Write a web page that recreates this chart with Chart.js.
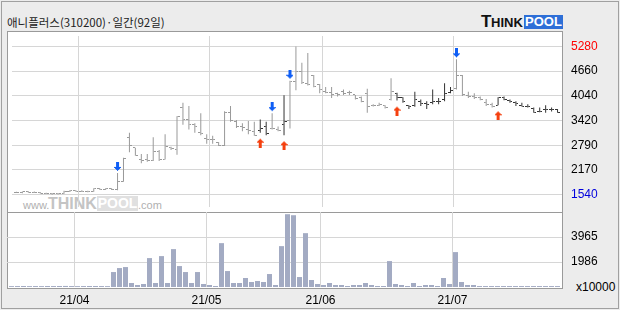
<!DOCTYPE html>
<html>
<head>
<meta charset="utf-8">
<script src="https://cdn.jsdelivr.net/npm/chart.js@4.4.1/dist/chart.umd.min.js"></script>
<style>
  body { margin: 0; width: 620px; height: 310px; background: #ececec; position: relative; overflow: hidden; }
  #frame { position: absolute; left: 1px; top: 1px; width: 616px; height: 306px; border: 1px solid #a0a0a0; }
  #title { position: absolute; left: 7px; top: 16px; font: 11.5px/12px 'Noto Sans CJK KR', sans-serif; color: #222; white-space: nowrap; }
  #panel { position: absolute; left: 7px; top: 31px; width: 554px; height: 256px; border: 1px solid #9a9a9a; background: #fff; }
  #sep { position: absolute; left: 7px; top: 212px; width: 556px; height: 1px; background: #9a9a9a; }
  .lg { position: absolute; font-family: 'Liberation Sans', Arial, sans-serif; font-weight: bold; white-space: nowrap; }
  #unit { position: absolute; left: 576px; top: 280px; font: 12px 'Liberation Sans', sans-serif; color: #000; }
  canvas { position: absolute; }
</style>
</head>
<body>
<div id="frame"></div>
<div id="title">애니플러스(310200)·일간(92일)</div>

<div class="lg" style="left:481px;top:13px;font-size:17px;line-height:17px;color:#111">T</div>
<div class="lg" style="left:491px;top:17px;font-size:13px;line-height:12px;color:#111">HINK</div>
<div class="lg" style="left:524px;top:15px;width:39px;height:14px;background:#2e6fd7;color:#fff;font-size:13px;line-height:14px;text-align:center">POOL</div>

<div id="panel"></div>
<div class="lg" style="left:23px;top:200px;font-size:11px;line-height:11px;font-weight:normal;color:#b0b0b0">www.</div>
<div class="lg" style="left:48px;top:196px;font-size:16px;line-height:15px;color:#c4c4c4">THINK</div>
<div class="lg" style="left:97px;top:196px;width:41px;height:15px;background:#e0e0e0;color:#fff;font-size:14px;line-height:15px;text-align:center">POOL</div>
<div class="lg" style="left:138px;top:200px;font-size:11px;line-height:11px;font-weight:normal;color:#b0b0b0">.com</div>
<div id="sep"></div>
<div id="unit">x10000</div>

<canvas id="priceChart" width="613" height="181" style="left:7px;top:31px"></canvas>
<canvas id="volumeChart" width="613" height="98" style="left:7px;top:212px"></canvas>

<script>
const days = [
  '21/03/17','21/03/18','21/03/19','21/03/22','21/03/23','21/03/24','21/03/25','21/03/26','21/03/29','21/03/30','21/03/31',
  '21/04/01','21/04/02','21/04/05','21/04/06','21/04/07','21/04/08','21/04/09','21/04/12','21/04/13','21/04/14','21/04/15',
  '21/04/16','21/04/19','21/04/20','21/04/21','21/04/22','21/04/23','21/04/26','21/04/27','21/04/28','21/04/29','21/04/30',
  '21/05/03','21/05/04','21/05/06','21/05/07','21/05/10','21/05/11','21/05/12','21/05/13','21/05/14','21/05/17','21/05/18',
  '21/05/20','21/05/21','21/05/24','21/05/25','21/05/26','21/05/27','21/05/28','21/05/31',
  '21/06/01','21/06/02','21/06/03','21/06/04','21/06/07','21/06/08','21/06/09','21/06/10','21/06/11','21/06/14','21/06/15',
  '21/06/16','21/06/17','21/06/18','21/06/21','21/06/22','21/06/23','21/06/24','21/06/25','21/06/28','21/06/29','21/06/30',
  '21/07/01','21/07/02','21/07/05','21/07/06','21/07/07','21/07/08','21/07/09','21/07/12','21/07/13','21/07/14','21/07/15',
  '21/07/16','21/07/19','21/07/20','21/07/21','21/07/22','21/07/23','21/07/26'
];

const open = [
  1600,1595,1610,1605,1600,1580,1565,1560,1570,1620,1640,1630,1625,1620,1690,1680,1685,1680,1880,2990,
  2720,2430,2420,2405,2629,2430,2724,2683,3739,3430,3303,3105,2945,2930,2850,2790,3620,3382,3263,3183,
  3143,3167,3248,3207,3183,3319,3405,4398,4653,4334,4540,4310,4150,4110,4090,4130,4120,4057,4000,4100,
  3780,3800,3780,3930,4100,3990,3780,3790,3900,3850,3858,3880,3938,4120,4215,4540,4032,4010,4000,3874,
  3818,3795,4000,3910,3860,3795,3770,3715,3640,3680,3690,3680
];
const high = [
  1615,1620,1625,1620,1610,1590,1575,1580,1640,1660,1655,1650,1640,1700,1710,1700,1700,2090,2470,3105,
  2724,2564,2564,2986,2667,3064,2748,3517,3858,3779,3343,3596,3064,3024,2867,3643,3779,3422,3343,3398,
  3382,3438,3382,3596,3263,4047,4415,5280,4868,5113,4560,4334,4255,4255,4113,4191,4160,4057,4017,4215,
  3819,3858,3795,4477,4113,4000,3795,4136,3938,3898,4191,3977,4350,4255,4953,4556,4136,4096,4017,3953,
  3858,4000,4017,3938,3898,3858,3819,3739,3739,3795,3739,3700
];
const low = [
  1585,1580,1590,1585,1570,1555,1540,1545,1565,1610,1615,1610,1605,1615,1665,1660,1660,1650,1870,2610,
  2524,2333,2374,2390,2390,2430,2667,2548,3303,3183,3105,3041,2826,2826,2771,2771,3382,3224,3143,3064,
  3024,3105,3041,3183,3143,3041,3207,4177,4334,4296,4250,4096,4096,3977,4017,4057,4057,3938,3874,3605,
  3762,3779,3715,3914,3914,3858,3700,3760,3779,3700,3819,3819,3898,4096,4191,4032,3977,3953,3922,3779,
  3739,3795,3922,3858,3779,3762,3739,3605,3620,3605,3636,3605
];
const close = [
  1595,1610,1605,1600,1580,1565,1560,1570,1620,1640,1630,1625,1620,1690,1680,1685,1680,1880,2450,2790,
  2540,2410,2400,2629,2430,2748,2710,3500,3438,3303,3248,3081,2940,2920,2780,3620,3422,3263,3224,3160,
  3041,3207,3088,3200,3160,3398,4398,4653,4358,4310,4260,4200,4110,4070,4057,4096,4110,3960,3900,3770,
  3800,3820,3740,4153,3990,3880,3760,3950,3850,3820,3898,3900,4096,4170,4556,4057,4010,3993,3940,3818,
  3755,3993,3940,3880,3840,3770,3760,3620,3640,3700,3680,3620
];
// 거래량 (x10000)
const volume = [
  70,75,80,70,75,70,80,75,80,85,75,70,75,80,80,75,70,
  1188,1505,1584,317,158,238,2297,317,2455,317,
  3010,1663,1188,317,1188,238,158,80,3485,1267,
  317,317,713,396,475,396,1030,158,3247,5782,
  5702,792,4277,554,238,158,317,158,158,80,
  158,158,317,158,80,80,2059,238,158,80,
  317,80,158,158,80,713,238,2772,396,158,
  158,75,75,75,75,75,75,75,75,75,
  75,75,75,75,75
];
const blackBars = [41,42,45,64,65,66,67,68,69,70,71,72,73,81,82,83,84,85,86,87,88,89,90,91];
const sellSignals = [17,43,46,74];
const buySignals = [41,45,64,81];

const priceTicks = [1540, 2163.3, 2786.7, 3410, 4033.3, 4656.7, 5280];
const priceLabels = ['1540','2170','2790','3420','4040','4660','5280'];
const volumeTicks = [1986, 3965];
const volumeLabels = ['1986','3965'];

const GRAY = '#999999', DARK = '#333333', GRID = '#d6d6d6';
const axisFont = { family: "'Liberation Sans',sans-serif", size: 12 };

const monthStarts = [];
days.forEach((d, i) => { if (i > 0 && d.slice(3, 5) !== days[i - 1].slice(3, 5)) monthStarts.push(i); });

const barColor = i => blackBars.includes(i) ? DARK : GRAY;

function stamp(w, h, color, rows) {
  const c = document.createElement('canvas');
  c.width = w; c.height = h;
  const g = c.getContext('2d');
  g.fillStyle = color;
  rows.forEach(([x, y, len]) => g.fillRect(x, y, len, 1));
  return c;
}
const openGray = stamp(5, 1, GRAY, [[0, 0, 2]]);
const openDark = stamp(5, 1, DARK, [[0, 0, 2]]);
const closeGray = stamp(5, 1, GRAY, [[3, 0, 2]]);
const closeDark = stamp(5, 1, DARK, [[3, 0, 2]]);
const arrowDown = stamp(7, 22, '#0f5ef5', [[2,0,3],[2,1,3],[2,2,3],[2,3,3],[2,4,3],[0,5,7],[1,6,5],[2,7,3],[3,8,1]]);
const arrowUp = stamp(7, 30, '#f5400f', [[3,21,1],[2,22,3],[1,23,5],[0,24,7],[2,25,3],[2,26,3],[2,27,3],[2,28,3],[2,29,3]]);

function xAxis(showLabels) {
  return {
    type: 'linear', min: -0.75, max: 91.75, offset: false, bounds: 'data',
    afterBuildTicks: s => { s.ticks = monthStarts.map(i => ({ value: i - 0.5 })); },
    ticks: {
      display: showLabels, autoSkip: false, maxRotation: 0, padding: 6, color: '#000',
      font: { family: "'Liberation Sans',sans-serif", size: 12 },
      callback: (v, k) => { const d = days[monthStarts[k]]; return d.slice(0, 2) + '/' + d.slice(3, 5); }
    },
    grid: { color: GRID, drawTicks: false, offset: false },
    border: { display: false },
    afterFit: s => { s.height = showLabels ? 23 : 0; s.paddingLeft = 0; s.paddingRight = 0; }
  };
}

function yAxis(min, max, tickValues, labels, colorFn) {
  return {
    type: 'linear', position: 'right', min: min, max: max, bounds: 'data',
    afterBuildTicks: s => { s.ticks = tickValues.map(v => ({ value: v })); },
    ticks: { padding: 9, color: colorFn, font: axisFont, callback: (v, k) => labels[k] },
    grid: { color: GRID, drawTicks: false },
    border: { display: false },
    afterFit: s => { s.width = 58; s.paddingTop = 0; s.paddingBottom = 0; }
  };
}

const common = {
  responsive: false, animation: false, events: [],
  layout: { padding: 0 },
  plugins: { legend: { display: false }, tooltip: { enabled: false } }
};

new Chart(document.getElementById('priceChart'), {
  type: 'bar',
  data: {
    datasets: [
      { type: 'bar', data: days.map((d, i) => ({ x: i, y: [low[i], high[i]] })),
        backgroundColor: c => barColor(c.dataIndex), barThickness: 1, inflateAmount: 0, borderWidth: 0 },
      { type: 'line', data: days.map((d, i) => ({ x: i, y: open[i] })), showLine: false, pointRadius: 3,
        pointStyle: c => blackBars.includes(c.dataIndex) ? openDark : openGray },
      { type: 'line', data: days.map((d, i) => ({ x: i, y: close[i] })), showLine: false, pointRadius: 3,
        pointStyle: c => blackBars.includes(c.dataIndex) ? closeDark : closeGray },
      { type: 'line', data: sellSignals.map(i => ({ x: i, y: high[i] })), showLine: false, pointRadius: 3, pointStyle: arrowDown },
      { type: 'line', data: buySignals.map(i => ({ x: i, y: low[i] })), showLine: false, pointRadius: 3, pointStyle: arrowUp }
    ]
  },
  options: Object.assign({}, common, {
    scales: {
      x: xAxis(false),
      y: yAxis(1230.3, 5542, priceTicks, priceLabels,
        c => c.index === priceTicks.length - 1 ? '#ff0000' : (c.index === 0 ? '#0000dd' : '#000'))
    }
  })
});

new Chart(document.getElementById('volumeChart'), {
  type: 'bar',
  data: {
    datasets: [
      { data: days.map((d, i) => ({ x: i, y: volume[i] })), backgroundColor: '#a3abc3',
        barThickness: 5, inflateAmount: 0, borderWidth: 0 }
    ]
  },
  options: Object.assign({}, common, {
    scales: {
      x: xAxis(true),
      y: yAxis(0, 5958, volumeTicks, volumeLabels, '#000')
    }
  })
});
</script>
</body>
</html>
